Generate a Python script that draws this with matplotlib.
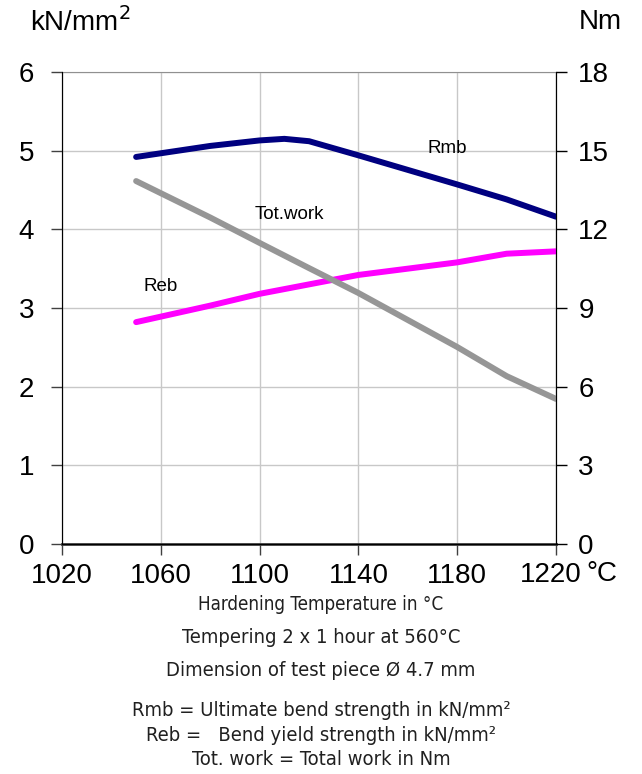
import matplotlib
matplotlib.use("Agg")
import matplotlib.pyplot as plt

plt.rcParams['font.family'] = ['Liberation Sans', 'DejaVu Sans']

# hardening temperature, degC
temp = [1050, 1080, 1100, 1110, 1120, 1140, 1180, 1200, 1220]
# Rmb, kN/mm2 (left axis)
rmb = [4.92, 5.06, 5.13, 5.15, 5.12, 4.94, 4.57, 4.38, 4.16]
# Reb, kN/mm2 (left axis)
reb = [2.82, 3.03, 3.18, 3.24, 3.30, 3.42, 3.58, 3.69, 3.72]
# total work, Nm (right axis)
work = [13.84, 12.45, 11.48, 11.00, 10.52, 9.57, 7.51, 6.40, 5.53]

xticks = [1020, 1060, 1100, 1140, 1180, 1220]

fig = plt.figure(figsize=(6.42, 7.74), dpi=100)
ax = fig.add_axes([0.0966, 0.2972, 0.7696, 0.6098])
ax2 = ax.twinx()

ax.set_xlim(1020, 1220)
ax.set_ylim(0, 6)
ax2.set_ylim(0, 18)

ax.grid(True, color='#c8c8c8', lw=1)
ax.set_axisbelow(True)

ax.plot(temp, rmb, color='#000080', lw=4.3, solid_capstyle='round', zorder=3)
ax.plot(temp, reb, color='#ff00ff', lw=4.3, solid_capstyle='round', zorder=3)
ax2.plot(temp, work, color='#969696', lw=4.3, solid_capstyle='round', zorder=2)

ax.text(1176, 5.03, 'Rmb', fontsize=13.5, ha='center', va='center')
ax.text(1112, 4.19, 'Tot.work', fontsize=13.5, ha='center', va='center')
ax.text(1060, 3.27, 'Reb', fontsize=13.5, ha='center', va='center')

ax.set_xticks(xticks)
ax.set_xticklabels([str(t) for t in xticks[:-1]] + [''])
ax.set_yticks(range(0, 7))
ax2.set_yticks(range(0, 19, 3))

ax.tick_params(axis='both', labelsize=20, length=8, width=1, color='#404040')
ax.tick_params(axis='y', pad=12)
ax.tick_params(axis='x', pad=6)
ax2.tick_params(axis='y', labelsize=20, length=8, width=1, pad=8)

ax.spines['top'].set_color('#909090')
ax.spines['left'].set_color('#303030')
ax.spines['bottom'].set_color('#404040')
ax.spines['bottom'].set_linewidth(2)
ax2.spines['right'].set_color('black')
ax2.spines['top'].set_visible(False)

# last x label with unit, as in the original
fig.text(0.858, 0.2575, '1220', fontsize=20, ha='center', va='center')
fig.text(0.937, 0.259, '°C', fontsize=20, ha='center', va='center')
fig.text(0.125, 0.972, 'kN/mm$^2$', fontsize=20, ha='center', va='center')
fig.text(0.935, 0.972, 'Nm', fontsize=20, ha='center', va='center')

cond = dict(family='DejaVu Sans', stretch='condensed', ha='center', va='center', color='#202020')
fig.text(0.5, 0.219, 'Hardening Temperature in °C', fontsize=13.5, **cond)
fig.text(0.5, 0.177, 'Tempering 2 x 1 hour at 560°C', fontsize=14.5, **cond)
fig.text(0.5, 0.134, 'Dimension of test piece Ø 4.7 mm', fontsize=14.5, **cond)
fig.text(0.5, 0.082, 'Rmb = Ultimate bend strength in kN/mm²', fontsize=14.5, **cond)
fig.text(0.5, 0.050, 'Reb =   Bend yield strength in kN/mm²', fontsize=14.5, **cond)
fig.text(0.5, 0.019, 'Tot. work = Total work in Nm', fontsize=14.5, **cond)

fig.savefig('out.png', dpi=100)
